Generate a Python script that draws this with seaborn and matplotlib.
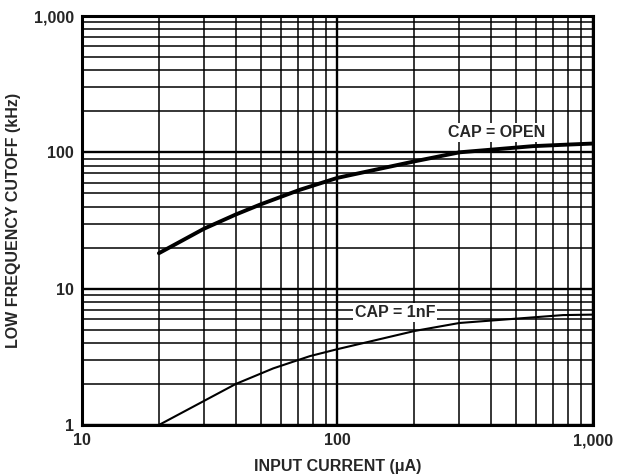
import numpy as np
import pandas as pd
import seaborn as sns
import matplotlib.pyplot as plt
from matplotlib.ticker import FixedLocator, LogLocator, NullFormatter

# values
current_open = [20, 30, 40, 50, 71, 100, 201, 300, 582, 800, 1000]
cutoff_open = [18.2, 27.5, 35, 41.5, 53, 65, 86, 100, 111, 114, 116]

current_1nf = [20, 25, 30, 40, 56, 78, 100, 201, 300, 486, 764, 1000]
cutoff_1nf = [1.0, 1.25, 1.5, 2.0, 2.6, 3.2, 3.6, 4.9, 5.6, 6.0, 6.4, 6.45]

x_ticks = [10, 100, 1000]
x_tick_labels = ["10", "100", "1,000"]
y_ticks = [1, 10, 100, 1000]
y_tick_labels = ["1", "10", "100", "1,000"]

df_open = pd.DataFrame({"current": current_open, "cutoff": cutoff_open})
df_1nf = pd.DataFrame({"current": current_1nf, "cutoff": cutoff_1nf})

sns.set_style("white")
plt.rcParams["font.family"] = ["Liberation Sans", "DejaVu Sans"]
plt.rcParams["font.weight"] = "bold"

fs = 11.5

fig = plt.figure(figsize=(6.18, 4.75), dpi=100)
ax = fig.add_axes([0.1327, 0.1053, 0.8268, 0.861])

sns.lineplot(data=df_open, x="current", y="cutoff", ax=ax, color="black", linewidth=2.8, zorder=5)
sns.lineplot(data=df_1nf, x="current", y="cutoff", ax=ax, color="black", linewidth=1.5, zorder=5)

ax.set_xscale("log")
ax.set_yscale("log")
ax.set_xlim(10, 1000)
ax.set_ylim(1, 1000)

ax.xaxis.set_major_locator(FixedLocator(x_ticks))
ax.yaxis.set_major_locator(FixedLocator(y_ticks))
ax.set_xticklabels(x_tick_labels)
ax.set_yticklabels(y_tick_labels)
ax.xaxis.set_minor_locator(LogLocator(base=10, subs=np.arange(2, 10)))
ax.yaxis.set_minor_locator(LogLocator(base=10, subs=np.arange(2, 10)))
ax.xaxis.set_minor_formatter(NullFormatter())
ax.yaxis.set_minor_formatter(NullFormatter())

ax.grid(which="major", color="black", linewidth=1.7)
ax.grid(which="minor", color="black", linewidth=1.1)
ax.tick_params(which="both", length=0, labelsize=fs, pad=6)
for lab in ax.get_xticklabels() + ax.get_yticklabels():
    lab.set_fontweight("bold")

for side in ax.spines.values():
    side.set_color("black")
    side.set_linewidth(2.2)

ax.set_xlabel("INPUT CURRENT (μA)", fontsize=fs, fontweight="bold", labelpad=8)
ax.set_ylabel("LOW FREQUENCY CUTOFF (kHz)", fontsize=fs, fontweight="bold", labelpad=9)

box = dict(facecolor="white", edgecolor="none", pad=1.5)
ax.text(421, 140, "CAP = OPEN", fontsize=fs, fontweight="bold", ha="center", va="center",
        bbox=box, zorder=6)
ax.text(168, 6.7, "CAP = 1nF", fontsize=fs, fontweight="bold", ha="center", va="center",
        bbox=box, zorder=6)

fig.savefig("out.png", dpi=100)
